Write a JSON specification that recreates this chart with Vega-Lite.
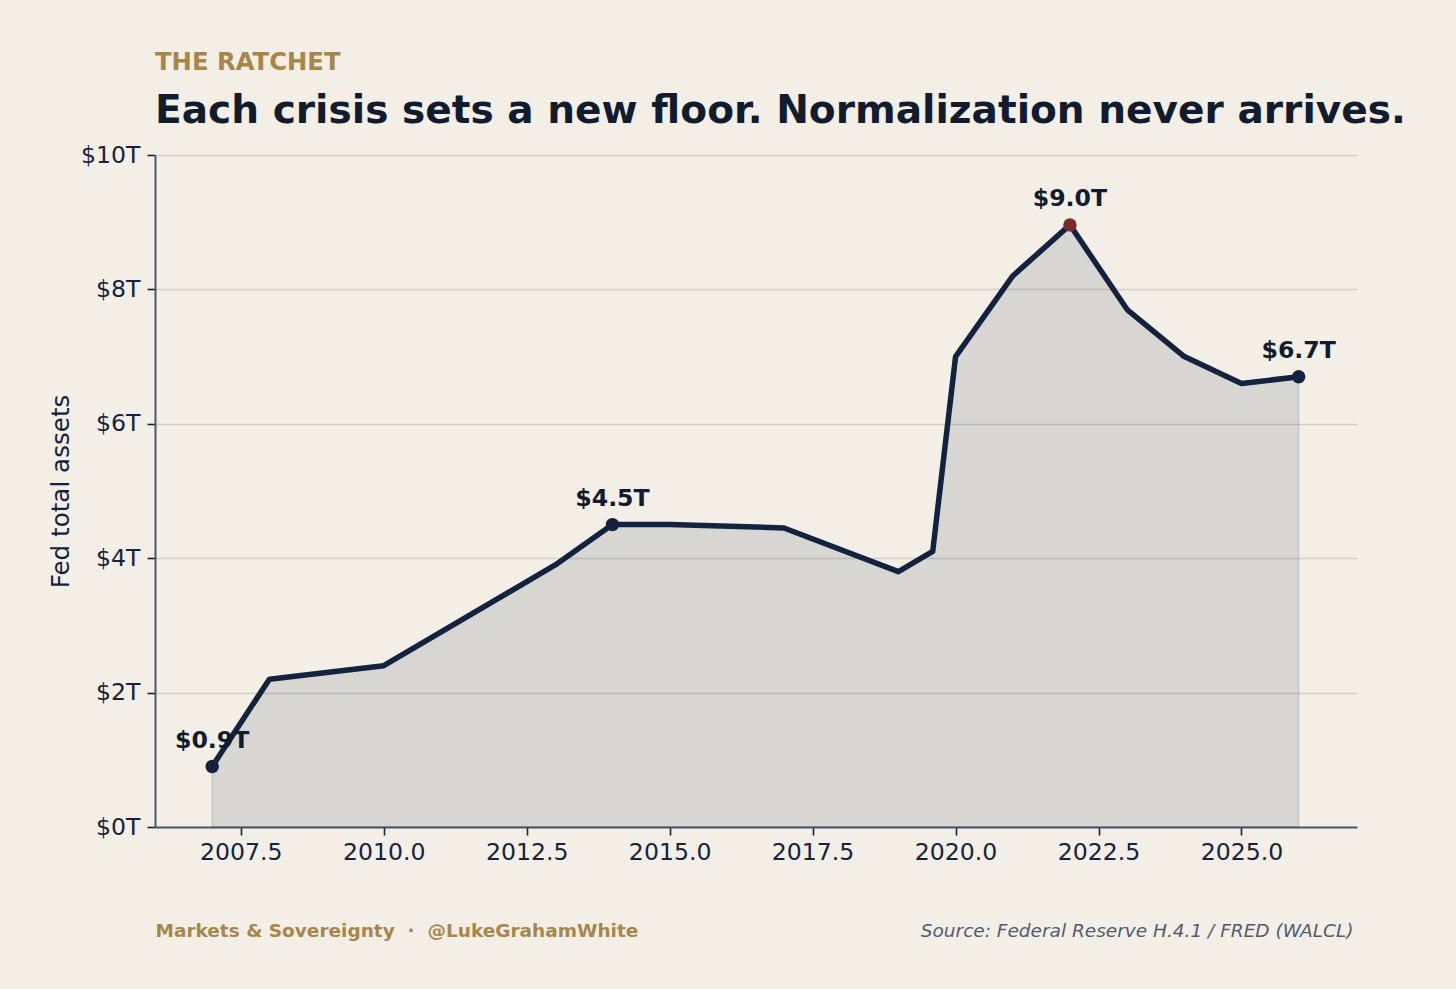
{
  "$schema": "https://vega.github.io/schema/vega-lite/v6.json",
  "width": 1202,
  "height": 672,
  "autosize": {"type": "none"},
  "padding": {"left": 155, "top": 155, "right": 99, "bottom": 162},
  "background": "#f3efe7",
  "config": {
    "view": {"stroke": null},
    "font": "DejaVu Sans",
    "axis": {
      "labelFont": "DejaVu Sans",
      "titleFont": "DejaVu Sans",
      "labelColor": "#13233f",
      "labelFontSize": 23.6,
      "domainColor": "#4a586b",
      "domainWidth": 2,
      "tickColor": "#13233f",
      "tickWidth": 1.6,
      "tickSize": 8,
      "gridColor": "#d3cfc6",
      "gridWidth": 1.3
    }
  },
  "title": {
    "text": "THE RATCHET",
    "subtitle": "Each crisis sets a new floor. Normalization never arrives.",
    "anchor": "start",
    "frame": "group",
    "orient": "top",
    "font": "DejaVu Sans",
    "fontSize": 24.3,
    "fontWeight": "bold",
    "color": "#a8864a",
    "subtitleFont": "DejaVu Sans",
    "subtitleFontSize": 39.1,
    "subtitleFontWeight": "bold",
    "subtitleColor": "#111c2e",
    "subtitlePadding": 17,
    "offset": 12
  },
  "data": {
    "values": [
      {"year": 2007, "assets": 0.9, "marked": true, "peak": false},
      {"year": 2008, "assets": 2.2, "marked": false, "peak": false},
      {"year": 2010, "assets": 2.4, "marked": false, "peak": false},
      {"year": 2013, "assets": 3.9, "marked": false, "peak": false},
      {"year": 2014, "assets": 4.5, "marked": true, "peak": false},
      {"year": 2015, "assets": 4.5, "marked": false, "peak": false},
      {"year": 2017, "assets": 4.45, "marked": false, "peak": false},
      {"year": 2019, "assets": 3.8, "marked": false, "peak": false},
      {"year": 2019.6, "assets": 4.1, "marked": false, "peak": false},
      {"year": 2020, "assets": 7.0, "marked": false, "peak": false},
      {"year": 2021, "assets": 8.2, "marked": false, "peak": false},
      {"year": 2022, "assets": 8.96, "marked": true, "peak": true},
      {"year": 2023, "assets": 7.7, "marked": false, "peak": false},
      {"year": 2024, "assets": 7.0, "marked": false, "peak": false},
      {"year": 2025, "assets": 6.6, "marked": false, "peak": false},
      {"year": 2026, "assets": 6.7, "marked": true, "peak": false}
    ]
  },
  "layer": [
    {
      "mark": {
        "type": "area",
        "color": "#13233f",
        "fillOpacity": 0.12,
        "stroke": "#13233f",
        "strokeOpacity": 0.1,
        "strokeWidth": 2
      },
      "encoding": {
        "x": {
          "field": "year",
          "type": "quantitative",
          "scale": {"domain": [2006.0, 2027.02], "nice": false, "zero": false},
          "axis": {
            "orient": "bottom",
            "values": [2007.5, 2010, 2012.5, 2015, 2017.5, 2020, 2022.5, 2025],
            "format": ".1f",
            "grid": false,
            "labelPadding": 5,
            "title": "Markets & Sovereignty\u00a0\u00a0·\u00a0\u00a0@LukeGrahamWhite",
            "titleFontSize": 18.5,
            "titleFontWeight": "bold",
            "titleColor": "#a8864a",
            "titleAnchor": "start",
            "titleAlign": "left",
            "titleBaseline": "alphabetic",
            "titleX": 0,
            "titleY": 109
          }
        },
        "y": {
          "field": "assets",
          "type": "quantitative",
          "scale": {"domain": [0, 10], "nice": false},
          "axis": {
            "values": [0, 2, 4, 6, 8, 10],
            "labelExpr": "'$' + datum.value + 'T'",
            "grid": true,
            "labelPadding": 7,
            "title": "Fed total assets",
            "titleFontSize": 24.6,
            "titleFontWeight": "normal",
            "titleColor": "#13233f",
            "titleX": -94,
            "titleY": 336,
            "titleAngle": -90,
            "titleAlign": "center",
            "titleBaseline": "middle"
          }
        }
      }
    },
    {
      "mark": {
        "type": "line",
        "color": "#13233f",
        "strokeWidth": 5.5,
        "strokeJoin": "round",
        "strokeCap": "square"
      },
      "encoding": {
        "x": {
          "field": "year",
          "type": "quantitative",
          "axis": {
            "orient": "top",
            "labels": false,
            "ticks": false,
            "domain": false,
            "grid": false,
            "title": "Source: Federal Reserve H.4.1 / FRED (WALCL)",
            "titleFontSize": 18.5,
            "titleFontWeight": "normal",
            "titleFontStyle": "italic",
            "titleColor": "#4f5d6e",
            "titleAnchor": "end",
            "titleAlign": "right",
            "titleBaseline": "alphabetic",
            "titleX": 1198,
            "titleY": 781
          }
        },
        "y": {"field": "assets", "type": "quantitative"}
      }
    },
    {
      "transform": [{"filter": "datum.marked"}],
      "mark": {"type": "point", "filled": true, "size": 180, "opacity": 1},
      "encoding": {
        "x": {"field": "year", "type": "quantitative", "axis": null},
        "y": {"field": "assets", "type": "quantitative"},
        "color": {
          "condition": {"test": "datum.peak", "value": "#7a2a2a"},
          "value": "#13233f"
        }
      }
    },
    {
      "transform": [
        {"filter": "datum.marked"},
        {"calculate": "'$' + format(datum.assets, '.1f') + 'T'", "as": "label"}
      ],
      "mark": {
        "type": "text",
        "font": "DejaVu Sans",
        "fontSize": 23.6,
        "fontWeight": "bold",
        "color": "#111c2e",
        "baseline": "alphabetic",
        "align": "center",
        "dy": -19
      },
      "encoding": {
        "x": {"field": "year", "type": "quantitative", "axis": null},
        "y": {"field": "assets", "type": "quantitative"},
        "text": {"field": "label"}
      }
    }
  ],
  "resolve": {"axis": {"x": "independent"}}
}
